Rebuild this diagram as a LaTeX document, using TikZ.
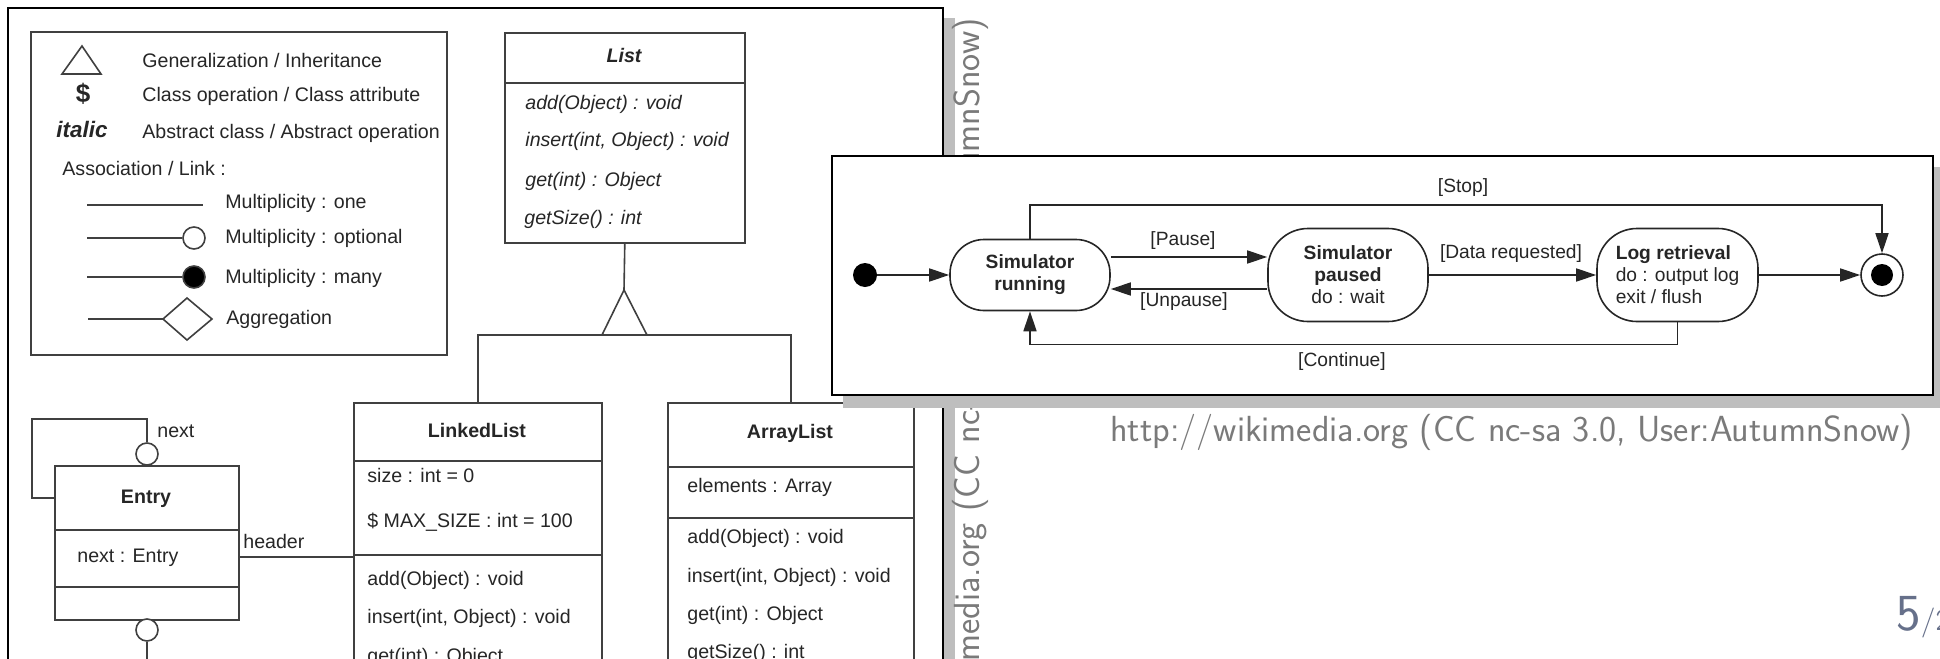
\documentclass[tikz,border=0pt]{standalone}
\usepackage{fontspec}
\setmainfont{Liberation Sans}
\usetikzlibrary{arrows.meta}
\definecolor{umlline}{HTML}{404040}
\definecolor{umltext}{HTML}{262626}
\definecolor{shadowgray}{HTML}{BEBEBE}
\definecolor{captiongray}{HTML}{7A7A7A}
\definecolor{pagenum}{HTML}{66708A}
\newcommand{\umlfont}{\fontsize{9.8}{11}\selectfont}
\newcommand{\stfont}{\fontsize{9.6}{11}\selectfont}
\newcommand{\capfont}{\sffamily\fontsize{18.15}{21}\selectfont}
\begin{document}
\begin{tikzpicture}[x=0.5pt,y=-0.5pt,
  uml/.style={draw=umlline,line width=0.8pt},
  ut/.style={font=\umlfont,text=umltext,inner sep=0pt,anchor=west,text height=7pt,text depth=2pt},
  utc/.style={ut,anchor=center},
  cls/.style={draw=umlline,line width=0.8pt,fill=white,inner sep=0pt,anchor=north west},
  lolli/.style={circle,draw=umlline,line width=0.8pt,fill=white,inner sep=0pt,minimum size=11pt},
  st/.style={draw=black!85,line width=0.8pt,fill=white,inner sep=0pt,align=center,font=\stfont,text=umltext},
  stl/.style={font=\stfont,text=umltext,inner sep=0pt},
  arr/.style={draw=black!85,line width=0.8pt,-{Triangle[length=10pt,width=6.5pt]}},
  frm/.style={draw=black,line width=1.3pt,fill=white},
  captxt/.style={inner sep=0pt,font=\capfont,text=captiongray},
]
\path[use as bounding box] (0,0) rectangle (1940,659);
\clip (0,0) rectangle (1940,659);
\fill[white] (0,0) rectangle (1940,659);

% ---------- UML class diagram ----------
\fill[shadowgray] (18,18) rectangle (955,740);
\draw[frm] (8,8) rectangle (943,730);

% legend
\draw[uml] (31,32) rectangle (447,355);
\draw[uml] (82,46) -- (101,74) -- (62,74) -- cycle;
\node[utc,font=\fontsize{13}{13}\selectfont\bfseries] (dollar) at (83,97) {\$};
\node[utc,font=\fontsize{11.2}{12}\selectfont\bfseries\itshape] (ital) at (82,132) {italic};
\node[ut] (lg1) at (142,62) {Generalization / Inheritance};
\node[ut] (lg2) at (142,96) {Class operation / Class attribute};
\node[ut] (lg3) at (142,133) {Abstract class / Abstract operation};
\node[ut] (lg4) at (62,170) {Association / Link :};
\node[ut] (lg5) at (225,203) {Multiplicity : one};
\node[ut] (lg6) at (225,238) {Multiplicity : optional};
\node[ut] (lg7) at (225,278) {Multiplicity : many};
\node[ut] (lg8) at (226,319) {Aggregation};
\draw[uml] (87,205) -- (203,205);
\node[lolli] (opt) at (194,238) {};
\draw[uml] (87,238) -- (opt.west);
\node[lolli,fill=black] (many) at (194,277) {};
\draw[uml] (87,277) -- (many.west);
\draw[uml] (88,319) -- (163,319);
\draw[uml,fill=white] (163,319) -- (187,298) -- (212,319) -- (187,340) -- cycle;

% List
\node[cls,minimum width=120pt,minimum height=105pt] (list) at (504,32) {};
\draw[uml] (list.west |- 0,83) -- (list.east |- 0,83);
\node[utc,font=\umlfont\bfseries\itshape] (listt) at (624,57) {List};
\node[ut,font=\umlfont\itshape] (lm1) at (525,104) {add(Object) : void};
\node[ut,font=\umlfont\itshape] (lm2) at (525,141) {insert(int, Object) : void};
\node[ut,font=\umlfont\itshape] (lm3) at (525,181) {get(int) : Object};
\node[ut,font=\umlfont\itshape] (lm4) at (524,219) {getSize() : int};

% LinkedList
\node[cls,minimum width=124pt,minimum height=160pt] (ll) at (353,402) {};
\draw[uml] (ll.west |- 0,461) -- (ll.east |- 0,461);
\draw[uml] (ll.west |- 0,555) -- (ll.east |- 0,555);
\node[utc,font=\umlfont\bfseries] (llt) at (477,432) {LinkedList};
\node[ut] (lla1) at (367,477) {size : int = 0};
\node[ut] (lla2) at (367,522) {\$ MAX\_SIZE : int = 100};
\node[ut] (llm1) at (367,580) {add(Object) : void};
\node[ut] (llm2) at (367,618) {insert(int, Object) : void};
\node[ut] (llm3) at (367,657) {get(int) : Object};

% ArrayList
\node[cls,minimum width=123pt,minimum height=160pt] (al) at (667,402) {};
\draw[uml] (al.west |- 0,467) -- (al.east |- 0,467);
\draw[uml] (al.west |- 0,518) -- (al.east |- 0,518);
\node[utc,font=\umlfont\bfseries] (alt) at (790,433) {ArrayList};
\node[ut] (ala1) at (687,487) {elements : Array};
\node[ut] (alm1) at (687,538) {add(Object) : void};
\node[ut] (alm2) at (687,577) {insert(int, Object) : void};
\node[ut] (alm3) at (687,615) {get(int) : Object};
\node[ut] (alm4) at (687,653) {getSize() : int};

% generalization
\coordinate (genTop) at (624,290);
\draw[uml] (list.south) -- (genTop);
\draw[uml] (ll.north) -- ++(0,-67) -| (al.north);
\draw[uml,fill=white] (genTop) -- ++(23,45) -- ++(-45,0) -- cycle;

% Entry
\node[cls,minimum width=92pt,minimum height=77pt] (entry) at (54,465) {};
\draw[uml] (entry.west |- 0,530) -- (entry.east |- 0,530);
\draw[uml] (entry.west |- 0,587) -- (entry.east |- 0,587);
\node[utc,font=\umlfont\bfseries] (et) at (146,498) {Entry};
\node[ut] (ea) at (77,557) {next : Entry};
\node[lolli] (nextc) at (147,454) {};
\draw[uml] (entry.west |- 0,498) -- ++(-22,0) |- ([yshift=11.5pt]nextc.north) -- (nextc.north);
\node[ut] (nextl) at (157,432) {next};
\node[lolli] (botc) at (147,630) {};
\draw[uml] (botc.south) -- ++(0,40);
\draw[uml] (entry.east |- 0,557) -- (ll.west |- 0,557);
\node[ut] (headl) at (243,543) {header};

% vertical watermark
\node[captxt,rotate=90,anchor=base east] (wm) at (979,18) {http://wikimedia.org (CC nc-sa 3.0, User:AutumnSnow)};

% ---------- state diagram ----------
\fill[shadowgray] (843,167) rectangle (1945,408);
\draw[frm] (832,156) rectangle (1933,395);

\node[circle,fill=black,inner sep=0pt,minimum size=12pt] (init) at (865,275) {};
\node[st,minimum width=80pt,minimum height=35.5pt,rounded corners=17pt] (run) at (1030,275) {\textbf{Simulator}\\\textbf{running}};
\node[st,minimum width=80pt,minimum height=46.5pt,rounded corners=20pt] (pau) at (1348,275) {\textbf{Simulator}\\\textbf{paused}\\do : wait};
\node[st,minimum width=80.5pt,minimum height=46.5pt,rounded corners=20pt,align=left] (log) at (1677.5,275) {\textbf{Log retrieval}\\do : output log\\exit / flush};
\node[circle,draw=black!85,line width=0.8pt,fill=white,inner sep=0pt,minimum size=21pt] (fin) at (1882,275) {};
\node[circle,fill=black,inner sep=0pt,minimum size=11pt] (finin) at (fin.center) {};

\draw[arr] (init) -- (run);
\draw[arr] ([yshift=9pt]run.east) -- ([yshift=9pt]run.east -| pau.west);
\draw[arr] ([yshift=-7pt]pau.west) -- ([yshift=-7pt]pau.west -| run.east);
\draw[arr] (pau) -- (log);
\draw[arr] (log) -- (fin);
\draw[arr] (run.north) -- ++(0,-33.5) -| (fin.north);
\draw[arr] (log.south) -- ++(0,22) -| (run.south);

\node[stl] (lpause) at (1183,241) {[Pause]};
\node[stl] (lunpause) at (1184,302) {[Unpause]};
\node[stl] (ldata) at (1511,254) {[Data requested]};
\node[stl] (lstop) at (1463,188) {[Stop]};
\node[stl] (lcont) at (1342,362) {[Continue]};

% caption and page number
\node[captxt,anchor=base west] (cap) at (1110,441) {http://wikimedia.org (CC nc-sa 3.0, User:AutumnSnow)};
\node[anchor=base west,inner sep=0pt,text=pagenum,font=\sffamily] (pg) at (1896,630) {\fontsize{26}{26}\selectfont 5\fontsize{15}{15}\selectfont/2};
\end{tikzpicture}
\end{document}
